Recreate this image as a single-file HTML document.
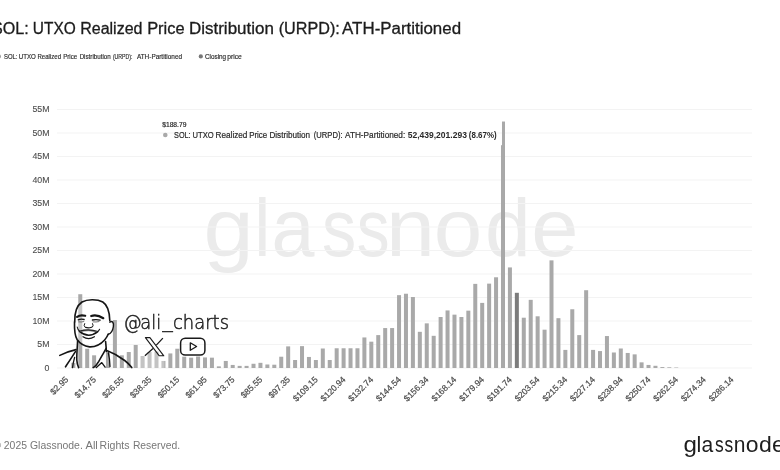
<!DOCTYPE html>
<html><head><meta charset="utf-8">
<style>
html,body{margin:0;padding:0;background:#fff;}
body{width:780px;height:470px;overflow:hidden;position:relative;font-family:"Liberation Sans",Arial,sans-serif;}
svg{position:absolute;left:0;top:0;display:block;filter:blur(0.4px);}
</style></head><body>
<svg width="780" height="470" viewBox="0 0 780 470" font-family="Liberation Sans, Arial, sans-serif">
<rect width="780" height="470" fill="#fff"/>
<!-- title -->
<text x="-8.0" y="33.7" textLength="36.66" lengthAdjust="spacingAndGlyphs" font-size="16" fill="#1c1c1c" stroke="#1c1c1c" stroke-width="0.3">SOL:</text>
<text x="32.84" y="33.7" textLength="42.88" lengthAdjust="spacingAndGlyphs" font-size="16" fill="#1c1c1c" stroke="#1c1c1c" stroke-width="0.3">UTXO</text>
<text x="80.2" y="33.7" textLength="62.3" lengthAdjust="spacingAndGlyphs" font-size="16" fill="#1c1c1c" stroke="#1c1c1c" stroke-width="0.3">Realized</text>
<text x="147.16" y="33.7" textLength="37.45" lengthAdjust="spacingAndGlyphs" font-size="16" fill="#1c1c1c" stroke="#1c1c1c" stroke-width="0.3">Price</text>
<text x="189.02" y="33.7" textLength="84.84" lengthAdjust="spacingAndGlyphs" font-size="16" fill="#1c1c1c" stroke="#1c1c1c" stroke-width="0.3">Distribution</text>
<text x="278.69" y="33.7" textLength="61.07" lengthAdjust="spacingAndGlyphs" font-size="16" fill="#1c1c1c" stroke="#1c1c1c" stroke-width="0.3">(URPD):</text>
<text x="342.1" y="33.7" textLength="118.95" lengthAdjust="spacingAndGlyphs" font-size="16" fill="#1c1c1c" stroke="#1c1c1c" stroke-width="0.3">ATH-Partitioned</text>
<!-- legend -->
<circle cx="-1.2" cy="56.4" r="2.1" fill="#999"/>
<text x="3.93" y="58.6" textLength="13.55" lengthAdjust="spacingAndGlyphs" font-size="6.6" fill="#2a2a2a" stroke="#2a2a2a" stroke-width="0.15">SOL:</text>
<text x="18.73" y="58.6" textLength="17.08" lengthAdjust="spacingAndGlyphs" font-size="6.6" fill="#2a2a2a" stroke="#2a2a2a" stroke-width="0.15">UTXO</text>
<text x="37.44" y="58.6" textLength="23.6" lengthAdjust="spacingAndGlyphs" font-size="6.6" fill="#2a2a2a" stroke="#2a2a2a" stroke-width="0.15">Realized</text>
<text x="63.13" y="58.6" textLength="14.12" lengthAdjust="spacingAndGlyphs" font-size="6.6" fill="#2a2a2a" stroke="#2a2a2a" stroke-width="0.15">Price</text>
<text x="79.63" y="58.6" textLength="31.12" lengthAdjust="spacingAndGlyphs" font-size="6.6" fill="#2a2a2a" stroke="#2a2a2a" stroke-width="0.15">Distribution</text>
<text x="112.88" y="58.6" textLength="19.64" lengthAdjust="spacingAndGlyphs" font-size="6.6" fill="#2a2a2a" stroke="#2a2a2a" stroke-width="0.15">(URPD):</text>
<text x="136.9" y="58.6" textLength="45.16" lengthAdjust="spacingAndGlyphs" font-size="6.6" fill="#2a2a2a" stroke="#2a2a2a" stroke-width="0.15">ATH-Partitioned</text>
<text x="205.01" y="58.6" textLength="21.14" lengthAdjust="spacingAndGlyphs" font-size="6.6" fill="#2a2a2a" stroke="#2a2a2a" stroke-width="0.15">Closing</text>
<text x="227.3" y="58.6" textLength="14.48" lengthAdjust="spacingAndGlyphs" font-size="6.6" fill="#2a2a2a" stroke="#2a2a2a" stroke-width="0.15">price</text>
<circle cx="200.8" cy="56.4" r="2.1" fill="#777"/>
<!-- watermark -->
<text x="203.58" y="256" textLength="50.19" lengthAdjust="spacingAndGlyphs" font-size="82" fill="#ebebeb">g</text>
<text x="254.27" y="256" textLength="16.11" lengthAdjust="spacingAndGlyphs" font-size="82" fill="#ebebeb">l</text>
<text x="271.59" y="256" textLength="42.92" lengthAdjust="spacingAndGlyphs" font-size="82" fill="#ebebeb">a</text>
<text x="321.93" y="256" textLength="34.21" lengthAdjust="spacingAndGlyphs" font-size="82" fill="#ebebeb">s</text>
<text x="356.67" y="256" textLength="32.88" lengthAdjust="spacingAndGlyphs" font-size="82" fill="#ebebeb">s</text>
<text x="386.0" y="256" textLength="48.94" lengthAdjust="spacingAndGlyphs" font-size="82" fill="#ebebeb">n</text>
<text x="433.67" y="256" textLength="48.57" lengthAdjust="spacingAndGlyphs" font-size="82" fill="#ebebeb">o</text>
<text x="485.13" y="256" textLength="45.68" lengthAdjust="spacingAndGlyphs" font-size="82" fill="#ebebeb">d</text>
<text x="531.15" y="256" textLength="47.19" lengthAdjust="spacingAndGlyphs" font-size="82" fill="#ebebeb">e</text>
<!-- grid -->
<g stroke="#f3f3f3" stroke-width="1">
<line x1="57" x2="752" y1="368.0" y2="368.0"/>
<line x1="57" x2="752" y1="344.5" y2="344.5"/>
<line x1="57" x2="752" y1="321.0" y2="321.0"/>
<line x1="57" x2="752" y1="297.5" y2="297.5"/>
<line x1="57" x2="752" y1="274.0" y2="274.0"/>
<line x1="57" x2="752" y1="250.5" y2="250.5"/>
<line x1="57" x2="752" y1="227.0" y2="227.0"/>
<line x1="57" x2="752" y1="203.5" y2="203.5"/>
<line x1="57" x2="752" y1="180.0" y2="180.0"/>
<line x1="57" x2="752" y1="156.5" y2="156.5"/>
<line x1="57" x2="752" y1="133.0" y2="133.0"/>
<line x1="57" x2="752" y1="109.5" y2="109.5"/>
</g>
<!-- y labels -->
<g font-size="8.8" fill="#4d4d4d" stroke="#4d4d4d" stroke-width="0.1" text-anchor="end">
<text x="49.5" y="370.6">0</text>
<text x="49.5" y="347.1">5M</text>
<text x="49.5" y="323.6">10M</text>
<text x="49.5" y="300.1">15M</text>
<text x="49.5" y="276.6">20M</text>
<text x="49.5" y="253.1">25M</text>
<text x="49.5" y="229.6">30M</text>
<text x="49.5" y="206.1">35M</text>
<text x="49.5" y="182.6">40M</text>
<text x="49.5" y="159.1">45M</text>
<text x="49.5" y="135.6">50M</text>
<text x="49.5" y="112.1">55M</text>
</g>
<!-- bars -->
<g>
<rect x="71.33" y="362.83" width="4.0" height="5.17" fill="#a9a9a9"/>
<rect x="78.26" y="294.21" width="4.0" height="73.79" fill="#a9a9a9"/>
<rect x="85.19" y="348.73" width="4.0" height="19.27" fill="#a9a9a9"/>
<rect x="92.12" y="355.31" width="4.0" height="12.69" fill="#a9a9a9"/>
<rect x="105.98" y="352.96" width="4.0" height="15.04" fill="#a9a9a9"/>
<rect x="112.91" y="320.06" width="4.0" height="47.94" fill="#a9a9a9"/>
<rect x="119.84" y="355.31" width="4.0" height="12.69" fill="#a9a9a9"/>
<rect x="126.77" y="352.02" width="4.0" height="15.98" fill="#a9a9a9"/>
<rect x="133.70" y="344.97" width="4.0" height="23.03" fill="#a9a9a9"/>
<rect x="140.63" y="356.01" width="4.0" height="11.98" fill="#a9a9a9"/>
<rect x="147.56" y="352.02" width="4.0" height="15.98" fill="#a9a9a9"/>
<rect x="154.49" y="351.55" width="4.0" height="16.45" fill="#a9a9a9"/>
<rect x="161.42" y="360.95" width="4.0" height="7.05" fill="#a9a9a9"/>
<rect x="168.35" y="353.43" width="4.0" height="14.57" fill="#a9a9a9"/>
<rect x="175.28" y="348.73" width="4.0" height="19.27" fill="#a9a9a9"/>
<rect x="182.21" y="356.72" width="4.0" height="11.28" fill="#a9a9a9"/>
<rect x="189.14" y="357.66" width="4.0" height="10.34" fill="#a9a9a9"/>
<rect x="196.07" y="356.49" width="4.0" height="11.52" fill="#a9a9a9"/>
<rect x="203.00" y="357.43" width="4.0" height="10.58" fill="#a9a9a9"/>
<rect x="209.93" y="357.66" width="4.0" height="10.34" fill="#a9a9a9"/>
<rect x="216.86" y="366.36" width="4.0" height="1.65" fill="#a9a9a9"/>
<rect x="223.79" y="360.95" width="4.0" height="7.05" fill="#a9a9a9"/>
<rect x="230.72" y="364.94" width="4.0" height="3.06" fill="#a9a9a9"/>
<rect x="237.65" y="365.88" width="4.0" height="2.12" fill="#a9a9a9"/>
<rect x="244.58" y="365.88" width="4.0" height="2.12" fill="#a9a9a9"/>
<rect x="251.51" y="363.77" width="4.0" height="4.23" fill="#a9a9a9"/>
<rect x="258.44" y="362.83" width="4.0" height="5.17" fill="#a9a9a9"/>
<rect x="265.37" y="364.48" width="4.0" height="3.53" fill="#a9a9a9"/>
<rect x="272.30" y="364.71" width="4.0" height="3.29" fill="#a9a9a9"/>
<rect x="279.23" y="356.72" width="4.0" height="11.28" fill="#a9a9a9"/>
<rect x="286.16" y="346.38" width="4.0" height="21.62" fill="#a9a9a9"/>
<rect x="293.09" y="360.01" width="4.0" height="7.99" fill="#a9a9a9"/>
<rect x="300.02" y="346.14" width="4.0" height="21.86" fill="#a9a9a9"/>
<rect x="306.95" y="356.95" width="4.0" height="11.05" fill="#a9a9a9"/>
<rect x="313.88" y="360.01" width="4.0" height="7.99" fill="#a9a9a9"/>
<rect x="320.81" y="348.50" width="4.0" height="19.51" fill="#a9a9a9"/>
<rect x="327.74" y="360.01" width="4.0" height="7.99" fill="#a9a9a9"/>
<rect x="334.67" y="348.26" width="4.0" height="19.74" fill="#a9a9a9"/>
<rect x="341.60" y="348.26" width="4.0" height="19.74" fill="#a9a9a9"/>
<rect x="348.53" y="348.26" width="4.0" height="19.74" fill="#a9a9a9"/>
<rect x="355.46" y="348.26" width="4.0" height="19.74" fill="#a9a9a9"/>
<rect x="362.39" y="337.45" width="4.0" height="30.55" fill="#a9a9a9"/>
<rect x="369.32" y="341.68" width="4.0" height="26.32" fill="#a9a9a9"/>
<rect x="376.25" y="335.10" width="4.0" height="32.90" fill="#a9a9a9"/>
<rect x="383.18" y="328.05" width="4.0" height="39.95" fill="#a9a9a9"/>
<rect x="390.11" y="328.05" width="4.0" height="39.95" fill="#a9a9a9"/>
<rect x="397.04" y="295.15" width="4.0" height="72.85" fill="#a9a9a9"/>
<rect x="403.97" y="293.74" width="4.0" height="74.26" fill="#a9a9a9"/>
<rect x="410.90" y="297.03" width="4.0" height="70.97" fill="#a9a9a9"/>
<rect x="417.83" y="331.81" width="4.0" height="36.19" fill="#a9a9a9"/>
<rect x="424.76" y="323.35" width="4.0" height="44.65" fill="#a9a9a9"/>
<rect x="431.69" y="335.81" width="4.0" height="32.20" fill="#a9a9a9"/>
<rect x="438.62" y="317.00" width="4.0" height="50.99" fill="#a9a9a9"/>
<rect x="445.55" y="310.43" width="4.0" height="57.58" fill="#a9a9a9"/>
<rect x="452.48" y="314.65" width="4.0" height="53.34" fill="#a9a9a9"/>
<rect x="459.41" y="317.00" width="4.0" height="50.99" fill="#a9a9a9"/>
<rect x="466.34" y="310.66" width="4.0" height="57.34" fill="#a9a9a9"/>
<rect x="473.27" y="283.87" width="4.0" height="84.13" fill="#a9a9a9"/>
<rect x="480.20" y="302.90" width="4.0" height="65.09" fill="#a9a9a9"/>
<rect x="487.13" y="283.63" width="4.0" height="84.36" fill="#a9a9a9"/>
<rect x="494.06" y="277.29" width="4.0" height="90.71" fill="#a9a9a9"/>
<rect x="500.99" y="145.22" width="4.0" height="222.78" fill="#a9a9a9"/>
<rect x="507.92" y="267.42" width="4.0" height="100.58" fill="#a9a9a9"/>
<rect x="514.85" y="292.80" width="4.0" height="75.20" fill="#7c7c7c"/>
<rect x="521.78" y="317.71" width="4.0" height="50.29" fill="#a9a9a9"/>
<rect x="528.71" y="299.85" width="4.0" height="68.15" fill="#a9a9a9"/>
<rect x="535.64" y="316.30" width="4.0" height="51.70" fill="#a9a9a9"/>
<rect x="542.57" y="329.69" width="4.0" height="38.30" fill="#a9a9a9"/>
<rect x="549.50" y="260.37" width="4.0" height="107.63" fill="#a9a9a9"/>
<rect x="556.43" y="318.18" width="4.0" height="49.82" fill="#a9a9a9"/>
<rect x="563.36" y="349.90" width="4.0" height="18.10" fill="#a9a9a9"/>
<rect x="570.29" y="309.25" width="4.0" height="58.75" fill="#a9a9a9"/>
<rect x="577.22" y="335.10" width="4.0" height="32.90" fill="#a9a9a9"/>
<rect x="584.15" y="290.21" width="4.0" height="77.79" fill="#a9a9a9"/>
<rect x="591.08" y="349.90" width="4.0" height="18.10" fill="#a9a9a9"/>
<rect x="598.01" y="351.08" width="4.0" height="16.92" fill="#a9a9a9"/>
<rect x="604.94" y="336.04" width="4.0" height="31.96" fill="#a9a9a9"/>
<rect x="611.87" y="352.49" width="4.0" height="15.51" fill="#a9a9a9"/>
<rect x="618.80" y="348.50" width="4.0" height="19.51" fill="#a9a9a9"/>
<rect x="625.73" y="352.96" width="4.0" height="15.04" fill="#a9a9a9"/>
<rect x="632.66" y="354.37" width="4.0" height="13.63" fill="#a9a9a9"/>
<rect x="639.59" y="362.36" width="4.0" height="5.64" fill="#a9a9a9"/>
<rect x="646.52" y="364.94" width="4.0" height="3.06" fill="#a9a9a9"/>
<rect x="653.45" y="365.79" width="4.0" height="2.21" fill="#a9a9a9"/>
<rect x="660.38" y="367.06" width="4.0" height="0.94" fill="#a9a9a9"/>
<rect x="667.31" y="367.30" width="4.0" height="0.70" fill="#a9a9a9"/>
<rect x="674.24" y="367.53" width="4.0" height="0.47" fill="#a9a9a9"/>
<rect x="501.99" y="121.53" width="3.0" height="246.47" fill="#a9a9a9"/>
</g>
<!-- x labels -->
<g font-size="8.6" fill="#4a4a4a" stroke="#4a4a4a" stroke-width="0.2" text-anchor="end">
<text transform="translate(68.90,380) rotate(-45)">$2.95</text>
<text transform="translate(96.62,380) rotate(-45)">$14.75</text>
<text transform="translate(124.34,380) rotate(-45)">$26.55</text>
<text transform="translate(152.06,380) rotate(-45)">$38.35</text>
<text transform="translate(179.78,380) rotate(-45)">$50.15</text>
<text transform="translate(207.50,380) rotate(-45)">$61.95</text>
<text transform="translate(235.22,380) rotate(-45)">$73.75</text>
<text transform="translate(262.94,380) rotate(-45)">$85.55</text>
<text transform="translate(290.66,380) rotate(-45)">$97.35</text>
<text transform="translate(318.38,380) rotate(-45)">$109.15</text>
<text transform="translate(346.10,380) rotate(-45)">$120.94</text>
<text transform="translate(373.82,380) rotate(-45)">$132.74</text>
<text transform="translate(401.54,380) rotate(-45)">$144.54</text>
<text transform="translate(429.26,380) rotate(-45)">$156.34</text>
<text transform="translate(456.98,380) rotate(-45)">$168.14</text>
<text transform="translate(484.70,380) rotate(-45)">$179.94</text>
<text transform="translate(512.42,380) rotate(-45)">$191.74</text>
<text transform="translate(540.14,380) rotate(-45)">$203.54</text>
<text transform="translate(567.86,380) rotate(-45)">$215.34</text>
<text transform="translate(595.58,380) rotate(-45)">$227.14</text>
<text transform="translate(623.30,380) rotate(-45)">$238.94</text>
<text transform="translate(651.02,380) rotate(-45)">$250.74</text>
<text transform="translate(678.74,380) rotate(-45)">$262.54</text>
<text transform="translate(706.46,380) rotate(-45)">$274.34</text>
<text transform="translate(734.18,380) rotate(-45)">$286.14</text>
</g>
<!-- tooltip -->
<text x="162.2" y="126.8" font-size="6.7" fill="#2a2a2a" stroke="#2a2a2a" stroke-width="0.2">$188.79</text>
<circle cx="165.3" cy="135" r="2.3" fill="#a9a9a9"/>
<text x="174.04" y="138.2" textLength="16.61" lengthAdjust="spacingAndGlyphs" font-size="8.5" fill="#2a2a2a" stroke="#2a2a2a" stroke-width="0.2">SOL:</text>
<text x="192.56" y="138.2" textLength="21.12" lengthAdjust="spacingAndGlyphs" font-size="8.5" fill="#2a2a2a" stroke="#2a2a2a" stroke-width="0.2">UTXO</text>
<text x="215.62" y="138.2" textLength="31.78" lengthAdjust="spacingAndGlyphs" font-size="8.5" fill="#2a2a2a" stroke="#2a2a2a" stroke-width="0.2">Realized</text>
<text x="249.14" y="138.2" textLength="18.07" lengthAdjust="spacingAndGlyphs" font-size="8.5" fill="#2a2a2a" stroke="#2a2a2a" stroke-width="0.2">Price</text>
<text x="269.43" y="138.2" textLength="40.68" lengthAdjust="spacingAndGlyphs" font-size="8.5" fill="#2a2a2a" stroke="#2a2a2a" stroke-width="0.2">Distribution</text>
<text x="313.75" y="138.2" textLength="28.83" lengthAdjust="spacingAndGlyphs" font-size="8.5" fill="#2a2a2a" stroke="#2a2a2a" stroke-width="0.2">(URPD):</text>
<text x="345.0" y="138.2" textLength="60.24" lengthAdjust="spacingAndGlyphs" font-size="8.5" fill="#2a2a2a" stroke="#2a2a2a" stroke-width="0.2">ATH-Partitioned:</text>
<text x="407.7" y="138.2" textLength="59.23" lengthAdjust="spacingAndGlyphs" font-size="8.5" font-weight="bold" fill="#2a2a2a">52,439,201.293</text>
<text x="468.83" y="138.2" textLength="27.88" lengthAdjust="spacingAndGlyphs" font-size="8.5" font-weight="bold" fill="#2a2a2a">(8.67%)</text>
<!-- social -->
<text x="123.55" y="329.2" textLength="18.24" lengthAdjust="spacingAndGlyphs" font-size="19.6" fill="#222" stroke="#222" stroke-width="0.5" font-family="DejaVu Sans, Liberation Sans, sans-serif" font-weight="200">@</text>
<text x="140.24" y="329.2" textLength="20.9" lengthAdjust="spacingAndGlyphs" font-size="19.6" fill="#222" stroke="#222" stroke-width="0.5" font-family="DejaVu Sans, Liberation Sans, sans-serif" font-weight="200">ali</text>
<text x="173.01" y="329.2" textLength="55.99" lengthAdjust="spacingAndGlyphs" font-size="19.6" fill="#222" stroke="#222" stroke-width="0.5" font-family="DejaVu Sans, Liberation Sans, sans-serif" font-weight="200">charts</text>
<text x="162.41" y="326.9" textLength="10.18" lengthAdjust="spacingAndGlyphs" font-size="19.6" fill="#222" stroke="#222" stroke-width="0.5" font-family="DejaVu Sans, Liberation Sans, sans-serif" font-weight="200">_</text>
<!-- face -->
<path d="M74.7 322 C74.5 313,76 306,82 302 C87 299.2,97 298.8,102.8 302 C107.2 304.8,109.6 311,109.8 320.8 L113.4 326.5 L108.2 334.3 C107.6 335.8,106.5 337.8,104.6 340 C101 344,95.5 347.1,89.6 346.9 C84 346,79.5 343,77.1 339.5 C74.9 336,74.3 330,74.5 322 Z" fill="#fff" fill-opacity="0.35"/>
<g fill="none" stroke="#151515" stroke-width="1.6" stroke-linecap="round" stroke-linejoin="round">
<path d="M74.7 322 C74.5 313,76 306,82 302 C87 299.2,97 298.8,102.8 302 C107.2 304.8,109.6 311,109.8 320.8"/>
<path d="M109.8 322.2 C112.3 320.6,114 322.4,113.4 326.5 C112.8 330.5,111 333.6,108.2 334.3" stroke-width="1.4"/>
<path d="M74.5 322 C74.3 330,74.9 336,77.1 339.5 C79.5 343,84 346,89.6 346.9 C95.5 347.1,101 344,104.6 340 C106.5 337.8,107.6 335.8,108.2 334.3"/>
<path d="M77.1 316.8 Q80.5 314.5,85.2 315.8" stroke-width="2.2"/>
<path d="M91.2 316 Q97 314.2,103.3 318.2" stroke-width="2.2"/>
<path d="M78.2 319.8 Q81 318.8,84.1 319.5" stroke-width="1.3"/>
<path d="M78.6 321.9 Q81.3 322.3,83.8 321.6" stroke-width="0.8" stroke="#555"/>
<path d="M92.4 320 Q96.3 319,100.1 320.2" stroke-width="1.3"/>
<path d="M93 321.9 Q96 322.3,99 321.6" stroke-width="0.8" stroke="#555"/>
<path d="M84.6 323.6 Q83.4 325.6,84.8 327" stroke-width="1"/>
<path d="M85.6 327.4 Q88.5 328.3,91.6 327.2" stroke-width="1.2"/>
<path d="M92.6 323.6 Q93.8 325.4,92.6 326.9" stroke-width="1"/>
<path d="M79.4 331.4 Q88.5 328.4,97.8 331.6 Q88.5 338.8,79.4 331.4 Z" fill="#fff" stroke-width="1.5"/>
<path d="M80.2 331.3 Q88.5 330,97 331.5" stroke-width="0.7" stroke="#666"/>
<path d="M83 336.8 Q88.5 340.4,94.4 336.8" stroke-width="1.3"/>
<path d="M77.2 327 Q77.8 330,79.6 331.3" stroke-width="1.1"/>
<path d="M99.6 329.2 Q98.8 330.8,97.6 331.6" stroke-width="1.1"/>
<path d="M77.6 340.5 C77.4 347,76.6 354,76.8 360 C77 363.5,77.8 365.8,78.6 367.6"/>
<path d="M76 349.6 C70.5 350.8,64.5 353,59.8 355.4"/>
<path d="M75.4 351.6 C73 355.5,70 360,65.5 366.8"/>
<path d="M74.6 357.3 C73.6 361,72.9 364.6,72.5 367.6" stroke-width="1.3"/>
<path d="M105.6 341.5 C105.9 344.5,106.2 347.5,106.4 351.8"/>
<path d="M106.2 348.4 C103.6 353,100.8 357.4,98.8 361.4 C97.2 364.4,95.2 366.5,93.2 367.6"/>
<path d="M96.4 367.6 L101.8 362.6 L105.1 367.2" stroke-width="1.3"/>
<path d="M107.3 350.8 C112 352.5,118 355.5,124.7 360.5 C127.5 362.6,130 365.2,131.8 367.6"/>
<path d="M108.2 352.4 C109.3 356.5,109.8 361.2,110 366.5" stroke-width="1.3"/>
</g>
<!-- X logo -->
<rect x="140.5" y="337" width="24" height="31" fill="#fff" fill-opacity="0.3"/>
<g fill="none" stroke="#1a1a1a" stroke-width="1.1" stroke-linejoin="round">
<path d="M145.4 337.6 L149.9 337.6 L163.8 355.8 L159.3 355.8 Z"/>
<path d="M162.9 338.1 L156.3 345.1 M153 348.6 L144.9 355.8" stroke-width="1.3"/>
</g>
<!-- YouTube -->
<g fill="none" stroke="#1a1a1a" stroke-width="1.5" stroke-linejoin="round">
<rect x="180.6" y="338.3" width="24.3" height="16.8" rx="4.6"/>
<path d="M190.3 342.8 L196.6 346.5 L190.3 350.3 Z" stroke-width="1.3"/>
</g>
<!-- footer -->
<text x="-6.8" y="449" font-size="10.4" fill="#777">©</text>
<text x="3.8" y="449" textLength="23.19" lengthAdjust="spacingAndGlyphs" font-size="10.4" fill="#777">2025</text>
<text x="30.0" y="449" textLength="52.79" lengthAdjust="spacingAndGlyphs" font-size="10.4" fill="#777">Glassnode.</text>
<text x="85.5" y="449" textLength="12.35" lengthAdjust="spacingAndGlyphs" font-size="10.4" fill="#777">All</text>
<text x="99.59" y="449" textLength="29.92" lengthAdjust="spacingAndGlyphs" font-size="10.4" fill="#777">Rights</text>
<text x="132.9" y="449" textLength="47.18" lengthAdjust="spacingAndGlyphs" font-size="10.4" fill="#777">Reserved.</text>
<text x="683.49" y="451.5" textLength="13.44" lengthAdjust="spacingAndGlyphs" font-size="21.5" fill="#1e1e1e">g</text>
<text x="696.6" y="451.5" textLength="4.78" lengthAdjust="spacingAndGlyphs" font-size="21.5" fill="#1e1e1e">l</text>
<text x="701.52" y="451.5" textLength="11.74" lengthAdjust="spacingAndGlyphs" font-size="21.5" fill="#1e1e1e">a</text>
<text x="714.89" y="451.5" textLength="8.71" lengthAdjust="spacingAndGlyphs" font-size="21.5" fill="#1e1e1e">s</text>
<text x="724.49" y="451.5" textLength="8.71" lengthAdjust="spacingAndGlyphs" font-size="21.5" fill="#1e1e1e">s</text>
<text x="733.63" y="451.5" textLength="11.7" lengthAdjust="spacingAndGlyphs" font-size="21.5" fill="#1e1e1e">n</text>
<text x="745.74" y="451.5" textLength="12.78" lengthAdjust="spacingAndGlyphs" font-size="21.5" fill="#1e1e1e">o</text>
<text x="759.04" y="451.5" textLength="12.82" lengthAdjust="spacingAndGlyphs" font-size="21.5" fill="#1e1e1e">d</text>
<text x="772.03" y="451.5" textLength="12.9" lengthAdjust="spacingAndGlyphs" font-size="21.5" fill="#1e1e1e">e</text>
</svg>
</body></html>
